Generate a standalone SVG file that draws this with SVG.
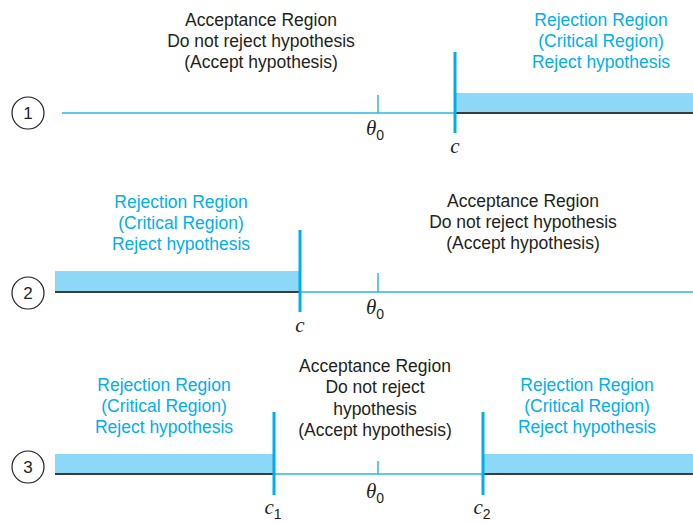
<svg xmlns="http://www.w3.org/2000/svg" width="693" height="523" viewBox="0 0 693 523">
<style>
.t{font-family:"Liberation Sans",Arial,sans-serif;font-size:17.5px;text-anchor:middle}
.k{fill:#231f20}
.b{fill:#00aeef}
.num{font-family:"Liberation Sans",Arial,sans-serif;font-size:17px;text-anchor:middle;fill:#231f20}
.cir{fill:none;stroke:#231f20;stroke-width:1.2}
.ax{stroke:#29b6ea;stroke-width:1.5;fill:none}
.dk{stroke:#3b3b3b;stroke-width:2;fill:none}
.crit{stroke:#00aeef;stroke-width:3;fill:none}
.tick{stroke:#29b6ea;stroke-width:1.5;fill:none}
.rej{fill:#8dd8f7}
.sym{font-family:"Liberation Serif","Times New Roman",serif;font-style:italic;font-size:21px;fill:#231f20;text-anchor:middle}
.sub{font-family:"Liberation Sans",Arial,sans-serif;font-style:normal;font-size:14px;fill:#231f20}
</style>
<g id="panel1">
<circle class="cir" cx="28" cy="113" r="16"/>
<text class="num" x="28" y="119">1</text>
<rect class="rej" x="456" y="93" width="237" height="20"/>
<line class="ax" x1="62" y1="113" x2="456" y2="113"/>
<line class="dk" x1="456" y1="113" x2="693" y2="113"/>
<line class="tick" x1="378" y1="95" x2="378" y2="113"/>
<line class="crit" x1="455" y1="52" x2="455" y2="133"/>
<text class="sym" x="375" y="135">θ<tspan class="sub" dy="5">0</tspan></text>
<text class="sym" x="455" y="153">c</text>
<g id="acc1"><text class="t k" x="261" y="26">Acceptance Region</text><text class="t k" x="261" y="47">Do not reject hypothesis</text><text class="t k" x="261" y="68">(Accept hypothesis)</text></g>
<g id="rej1"><text class="t b" x="601" y="26">Rejection Region</text><text class="t b" x="601" y="47">(Critical Region)</text><text class="t b" x="601" y="68">Reject hypothesis</text></g>
</g>
<g id="panel2">
<circle class="cir" cx="28" cy="293" r="16"/>
<text class="num" x="28" y="299">2</text>
<rect class="rej" x="55" y="271" width="245" height="21"/>
<line class="dk" x1="55" y1="292" x2="300" y2="292"/>
<line class="ax" x1="300" y1="292" x2="693" y2="292"/>
<line class="tick" x1="378" y1="273" x2="378" y2="292"/>
<line class="crit" x1="300" y1="230" x2="300" y2="312"/>
<text class="sym" x="375" y="314">θ<tspan class="sub" dy="5">0</tspan></text>
<text class="sym" x="300" y="332">c</text>
<g id="rej2"><text class="t b" x="181" y="208">Rejection Region</text><text class="t b" x="181" y="229">(Critical Region)</text><text class="t b" x="181" y="250">Reject hypothesis</text></g>
<g id="acc2"><text class="t k" x="523" y="207">Acceptance Region</text><text class="t k" x="523" y="228">Do not reject hypothesis</text><text class="t k" x="523" y="249">(Accept hypothesis)</text></g>
</g>
<g id="panel3">
<circle class="cir" cx="28" cy="467" r="16"/>
<text class="num" x="28" y="473">3</text>
<rect class="rej" x="55" y="454" width="219" height="20"/>
<rect class="rej" x="483" y="454" width="210" height="20"/>
<line class="dk" x1="55" y1="474" x2="274" y2="474"/>
<line class="ax" x1="274" y1="474" x2="483" y2="474"/>
<line class="dk" x1="483" y1="474" x2="693" y2="474"/>
<line class="tick" x1="378" y1="461" x2="378" y2="474"/>
<line class="crit" x1="274" y1="412" x2="274" y2="495"/>
<line class="crit" x1="483" y1="412" x2="483" y2="495"/>
<text class="sym" x="375" y="498">θ<tspan class="sub" dy="5">0</tspan></text>
<text class="sym" x="273" y="514">c<tspan class="sub" dy="5">1</tspan></text>
<text class="sym" x="482" y="514">c<tspan class="sub" dy="5">2</tspan></text>
<g id="rej3a"><text class="t b" x="164" y="391">Rejection Region</text><text class="t b" x="164" y="412">(Critical Region)</text><text class="t b" x="164" y="433">Reject hypothesis</text></g>
<g id="acc3"><text class="t k" x="375" y="372">Acceptance Region</text><text class="t k" x="375" y="393">Do not reject</text><text class="t k" x="375" y="415">hypothesis</text><text class="t k" x="375" y="436">(Accept hypothesis)</text></g>
<g id="rej3b"><text class="t b" x="587" y="391">Rejection Region</text><text class="t b" x="587" y="412">(Critical Region)</text><text class="t b" x="587" y="433">Reject hypothesis</text></g>
</g>
</svg>
